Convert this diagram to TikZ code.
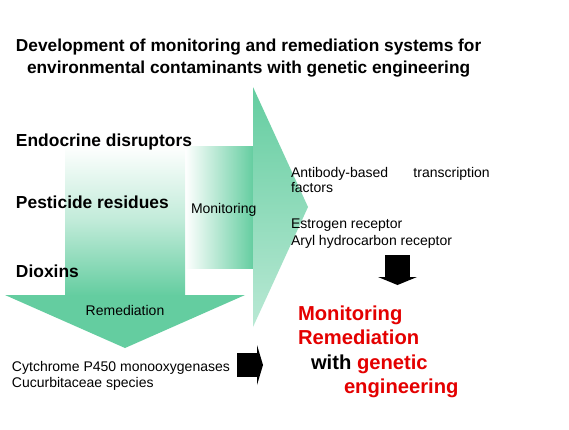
\documentclass[tikz,border=0pt]{standalone}
\usepackage{fontspec}
\setmainfont{Liberation Sans}
\definecolor{arrowgreen}{RGB}{100,205,160}
\definecolor{redtxt}{RGB}{228,0,0}
\begin{document}
\begin{tikzpicture}[x=1pt,y=-1pt,
  txt/.style={anchor=base west,inner sep=0pt,outer sep=0pt},
  titletxt/.style={txt,font=\fontsize{17.3}{20}\selectfont\bfseries},
  bigtxt/.style={txt,font=\fontsize{17.4}{20}\selectfont\bfseries},
  smalltxt/.style={txt,font=\fontsize{14}{16}\selectfont},
  redtxtstyle/.style={txt,font=\fontsize{20.2}{24}\selectfont\bfseries,text=redtxt}]
\useasboundingbox (0,0) rectangle (569,429);
\fill[white] (0,0) rectangle (569,429);
% right (monitoring) arrow
\shade[left color=white,right color=arrowgreen] (185,146) rectangle (253.5,268);
\shade[top color=arrowgreen,middle color=arrowgreen!85,bottom color=arrowgreen!45] (253,87) -- (308,207) -- (253,327) -- cycle;
% down (remediation) arrow
\shade[top color=white,bottom color=arrowgreen,middle color=arrowgreen!40] (65,145) rectangle (185,295.5);
\fill[arrowgreen] (5,295) -- (245,295) -- (125,348) -- cycle;
% black arrows
\fill[black] (385,255) rectangle (410,277.5);
\fill[black] (378,277) -- (417,277) -- (397.5,285) -- cycle;
\fill[black] (237,353) rectangle (257.5,377);
\fill[black] (257,345) -- (263,365) -- (257,385) -- cycle;
% title
\node[titletxt] (t1) at (16,51) {Development of monitoring and remediation systems for};
\node[titletxt] (t2) at (27,73) {environmental contaminants with genetic engineering};
% contaminants
\node[bigtxt] (ed) at (16,146) {Endocrine disruptors};
\node[bigtxt] (pr) at (16,208) {Pesticide residues};
\node[bigtxt] (dx) at (16,277) {Dioxins};
% arrow labels
\node[smalltxt] (mon) at (191,213) {Monitoring};
\node[smalltxt,anchor=base] (rem) at (125,315) {Remediation};
% monitoring details
\node[smalltxt] (ab1) at (291,177) {Antibody-based\hspace{1.8em}transcription};
\node[smalltxt] (ab2) at (291,192.5) {factors};
\node[smalltxt] (er) at (291,228.5) {Estrogen receptor};
\node[smalltxt] (ar) at (291,245) {Aryl hydrocarbon receptor};
% remediation details
\node[smalltxt] (cy) at (12,371) {Cytchrome P450 monooxygenases};
\node[smalltxt] (cu) at (12,387) {Cucurbitaceae species};
% result
\node[redtxtstyle] (r1) at (298,320) {Monitoring};
\node[redtxtstyle] (r2) at (298,344.5) {Remediation};
\node[redtxtstyle] (r3) at (311,369) {\textcolor{black}{with} genetic};
\node[redtxtstyle] (r4) at (344,393) {engineering};
\end{tikzpicture}
\end{document}
